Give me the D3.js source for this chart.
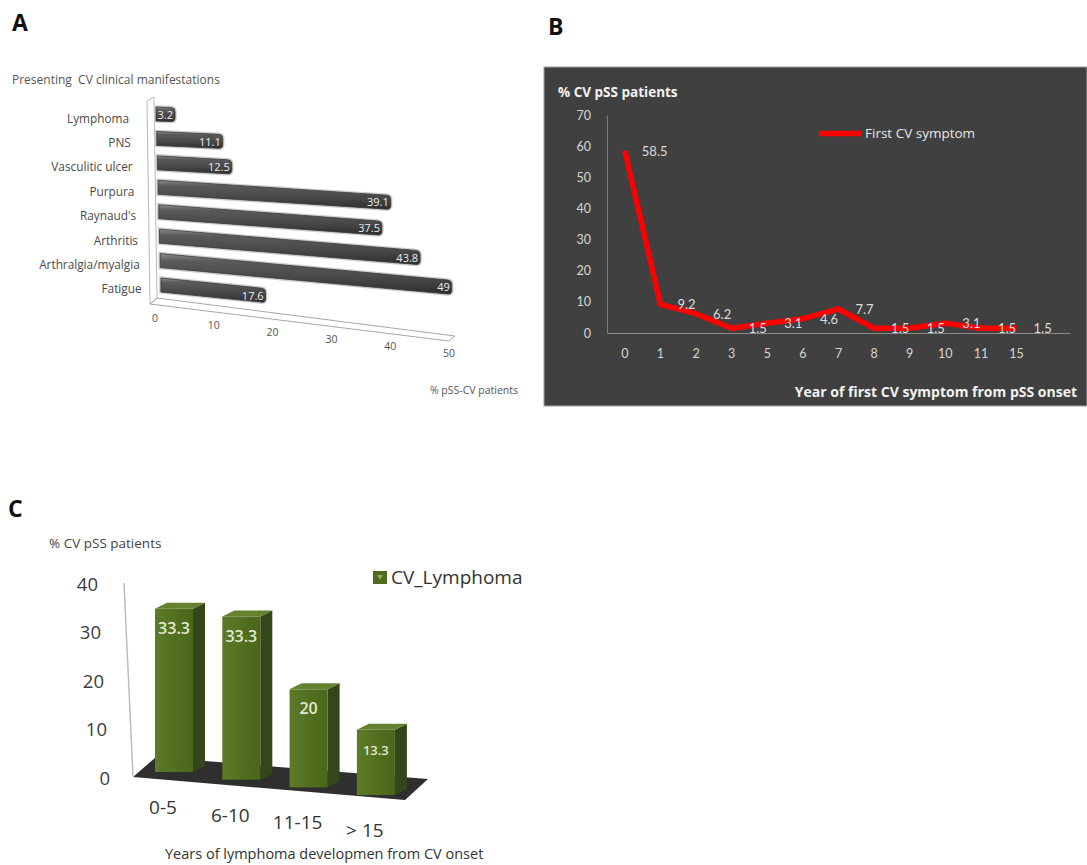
<!DOCTYPE html>
<html><head><meta charset="utf-8">
<script src="https://cdn.jsdelivr.net/npm/d3@7"></script>
<style>
html,body{margin:0;padding:0;background:#fff;}
svg{display:block;font-family:"Open Sans",Lato,sans-serif;}
text{white-space:pre;}
</style></head><body>
<svg id="chart" width="1087" height="865"></svg>
<script>
// Panel A: presenting CV clinical manifestations (% of pSS-CV patients)
const manifestations = ["Lymphoma","PNS","Vasculitic ulcer","Purpura","Raynaud's","Arthritis","Arthralgia/myalgia","Fatigue"];
const manifestationPct = [3.2, 11.1, 12.5, 39.1, 37.5, 43.8, 49, 17.6];
const pctTicksA = [0,10,20,30,40,50];

// Panel B: year of first CV symptom from pSS onset
const onsetYears = ["0","1","2","3","5","6","7","8","9","10","11","15"];
const firstSymptomPct = [58.5, 9.2, 6.2, 1.5, 3.1, 4.6, 7.7, 1.5, 1.5, 3.1, 1.5, 1.5];
const pctTicksB = [0,10,20,30,40,50,60,70];

// Panel C: years of lymphoma development from CV onset
const lymphomaPeriods = ["0-5","6-10","11-15","> 15"];
const lymphomaPct = [33.3, 33.3, 20, 13.3];
const pctTicksC = [0,10,20,30,40];

const svg = d3.select("#chart");
const defs = svg.append("defs");

const gradA = defs.append("linearGradient").attr("id","barA").attr("x1",0).attr("y1",0).attr("x2",0).attr("y2",1);
[[0,"#8c8c8c"],[0.18,"#5b5b5b"],[0.6,"#484848"],[1,"#2e2e2e"]].forEach(([o,c]) =>
  gradA.append("stop").attr("offset",o).attr("stop-color",c));
const gradC = defs.append("linearGradient").attr("id","barC").attr("x1",0).attr("y1",0).attr("x2",1).attr("y2",0);
[[0,"#5c7a28"],[0.5,"#52701f"],[1,"#4a661b"]].forEach(([o,c]) =>
  gradC.append("stop").attr("offset",o).attr("stop-color",c));

// panel letters
[["A",12,31],["B",548,35],["C",8,517]].forEach(([t,x,y]) =>
  svg.append("text").attr("x",x).attr("y",y).text(t)
    .attr("font-weight","bold").attr("font-size",23).attr("fill","#111"));

// ---------------- Panel A ----------------
const gA = svg.append("g");
const rowA = d3.scaleBand().domain(manifestations).range([101.8, 297.2]);
const xA = d3.scaleLinear().domain([0,50]).range([0, 297.5]);
const barHA = 14;
const slopeA = i => 0.038 + i * 0.009;
const startA = i => 156 + i * 0.7;

gA.append("text").attr("x",12).attr("y",84).attr("font-size",12).attr("fill","#555")
  .text("Presenting  CV clinical manifestations");

// back wall
gA.append("path").attr("d","M147,101 L154,97 L157,298 L150,304 Z")
  .attr("fill","none").attr("stroke","#b8b8b8").attr("stroke-width",1);
// floor
gA.append("path").attr("d","M150,304 L157,298 L455,336 L449,341 Z")
  .attr("fill","none").attr("stroke","#a8a8a8").attr("stroke-width",1);

manifestations.forEach((name, i) => {
  const v = manifestationPct[i];
  const x0 = startA(i), len = xA(v), x1 = x0 + len;
  const yc = rowA(name) + rowA.bandwidth()/2;
  const s = slopeA(i);
  const yt0 = yc - barHA/2, yb0 = yc + barHA/2;
  const yt1 = yt0 + len*s, yb1 = yb0 + len*s;
  const r = 4;
  const d = `M${x0},${yt0} L${x1-r},${yt1-r*s} Q${x1},${yt1} ${x1},${yt1+r} L${x1},${yb1-r} Q${x1},${yb1} ${x1-r},${yb1-r*s} L${x0},${yb0} Z`;
  gA.append("path").attr("d",d).attr("fill","none").attr("stroke","#cfcfcf").attr("stroke-width",3.5);
  gA.append("path").attr("d",d).attr("fill","url(#barA)").attr("stroke","#3a3a3a").attr("stroke-width",0.8);
  gA.append("text").attr("x",x1-2).attr("y",(yt1+yb1)/2+4).attr("text-anchor","end")
    .attr("font-size",11).attr("fill","#eeeeee").text(v);
  gA.append("text").attr("x",129 + i*1.8).attr("y",yc+4.5+4).attr("text-anchor","end")
    .attr("font-size",11.8).attr("fill","#4a4a4a").text(name);
});

const tickXA = d3.scaleLinear().domain([0,50]).range([155,449]);
pctTicksA.forEach(t => {
  gA.append("text").attr("x",tickXA(t)).attr("y",318 + t*0.7 + 4).attr("text-anchor","middle")
    .attr("font-size",10.5).attr("fill","#555").text(t);
});
gA.append("text").attr("x",518).attr("y",394).attr("text-anchor","end")
  .attr("font-size",10.5).attr("fill","#555").text("% pSS-CV patients");

// ---------------- Panel B ----------------
const gB = svg.append("g");
gB.append("rect").attr("x",544).attr("y",67).attr("width",543).attr("height",339)
  .attr("fill","#404040").attr("stroke","#a0a0a0").attr("stroke-width",1);

const xB = d3.scaleBand().domain(d3.range(onsetYears.length + 1)).range([607,1070]);
const yB = d3.scaleLinear().domain([0,70]).range([333,115]);
const cx = i => xB(i) + xB.bandwidth()/2;

const axL = gB.append("g").attr("transform","translate(607,0)")
  .call(d3.axisLeft(yB).tickValues(pctTicksB).tickSize(0).tickPadding(16));
axL.select(".domain").attr("stroke","#7c7c7c");
axL.selectAll("text").attr("font-size",12.5).attr("fill","#d6d6d6").attr("font-family","Lato,sans-serif");

const axB = gB.append("g").attr("transform","translate(0,333)")
  .call(d3.axisBottom(xB).tickFormat(i => onsetYears[i] ?? "").tickSize(0).tickPadding(16));
axB.select(".domain").attr("stroke","#8a8a8a");
axB.selectAll("text").attr("font-size",12.5).attr("fill","#d6d6d6").attr("font-family","Lato,sans-serif");

gB.append("path").datum(firstSymptomPct)
  .attr("d", d3.line().x((d,i) => cx(i)).y(d => yB(d)))
  .attr("fill","none").attr("stroke","#ff0000").attr("stroke-width",5.5).attr("stroke-linejoin","round");

firstSymptomPct.forEach((v,i) => {
  gB.append("text").attr("x",cx(i)+17).attr("y",yB(v)+5).attr("font-size",13)
    .attr("font-family","Lato,sans-serif").attr("fill","#dcdcdc").text(v);
});

gB.append("line").attr("x1",819).attr("x2",862).attr("y1",133.5).attr("y2",133.5)
  .attr("stroke","#ff0000").attr("stroke-width",5.5);
gB.append("text").attr("x",865).attr("y",138).attr("font-size",13.5).attr("fill","#e8e8e8").text("First CV symptom");

gB.append("text").attr("x",558).attr("y",97).attr("font-size",13.5).attr("font-weight","bold")
  .attr("fill","#f2f2f2").text("% CV pSS patients");
gB.append("text").attr("x",1077).attr("y",397).attr("text-anchor","end").attr("font-size",14)
  .attr("font-weight","bold").attr("fill","#f2f2f2").text("Year of first CV symptom from pSS onset");

// ---------------- Panel C ----------------
const gC = svg.append("g");
gC.append("text").attr("x",49).attr("y",548).attr("font-size",13.5).attr("fill","#444").text("% CV pSS patients");

const hC = d3.scaleLinear().domain([0,40]).range([0,196]);
const tickYC = d3.scaleLinear().domain([0,40]).range([778,584]);
const xC = d3.scaleBand().domain(lymphomaPeriods).range([155, 394.9]).paddingInner(0.435).paddingOuter(0);
const baseC = x => 772 + (x - 155) * 0.114;
const dx = 12, dy = -6;

// wall axis
gC.append("line").attr("x1",124).attr("y1",583).attr("x2",133).attr("y2",776)
  .attr("stroke","#bdbdbd").attr("stroke-width",1.5);
// floor
gC.append("path").attr("d","M133,777 L156,757 L428,779 L405,800 Z").attr("fill","#2f2f2f");

pctTicksC.forEach(t => {
  gC.append("text").attr("x",110 - t*0.3).attr("y",tickYC(t)+6.5).attr("text-anchor","end")
    .attr("font-size",18.5).attr("fill","#3c3c3c").text(t);
});

lymphomaPeriods.forEach((p,i) => {
  const v = lymphomaPct[i];
  const x = xC(p), w = xC.bandwidth();
  const b = baseC(x), h = hC(v), t = b - h;
  // side face
  gC.append("path").attr("d",`M${x+w},${b} L${x+w+dx},${b+dy} L${x+w+dx},${t+dy} L${x+w},${t} Z`)
    .attr("fill","#34461a");
  // top face
  gC.append("path").attr("d",`M${x},${t} L${x+dx},${t+dy} L${x+w+dx},${t+dy} L${x+w},${t} Z`)
    .attr("fill","#64812f");
  // front face
  gC.append("rect").attr("x",x).attr("y",t).attr("width",w).attr("height",h)
    .attr("fill","url(#barC)");
  gC.append("text").attr("x",x+w/2).attr("y",t+25).attr("text-anchor","middle")
    .attr("font-size", v < 15 ? 13 : 16).attr("font-weight",600).attr("fill","#e2ead2").text(v);
  gC.append("text").attr("x",x+w/2-11).attr("y",b+42).attr("text-anchor","middle")
    .attr("font-size",19).attr("fill","#333").text(p);
});

gC.append("rect").attr("x",373).attr("y",571).attr("width",14).attr("height",13).attr("fill","#4f6b1f");
gC.append("path").attr("d","M377,575 L383,575 L380,580 Z").attr("fill","#8fae55");
gC.append("text").attr("x",391).attr("y",584).attr("font-size",19).attr("fill","#333").text("CV_Lymphoma");

gC.append("text").attr("x",165).attr("y",859).attr("font-size",14.5).attr("fill","#333")
  .text("Years of lymphoma developmen from CV onset");
</script>
</body></html>
